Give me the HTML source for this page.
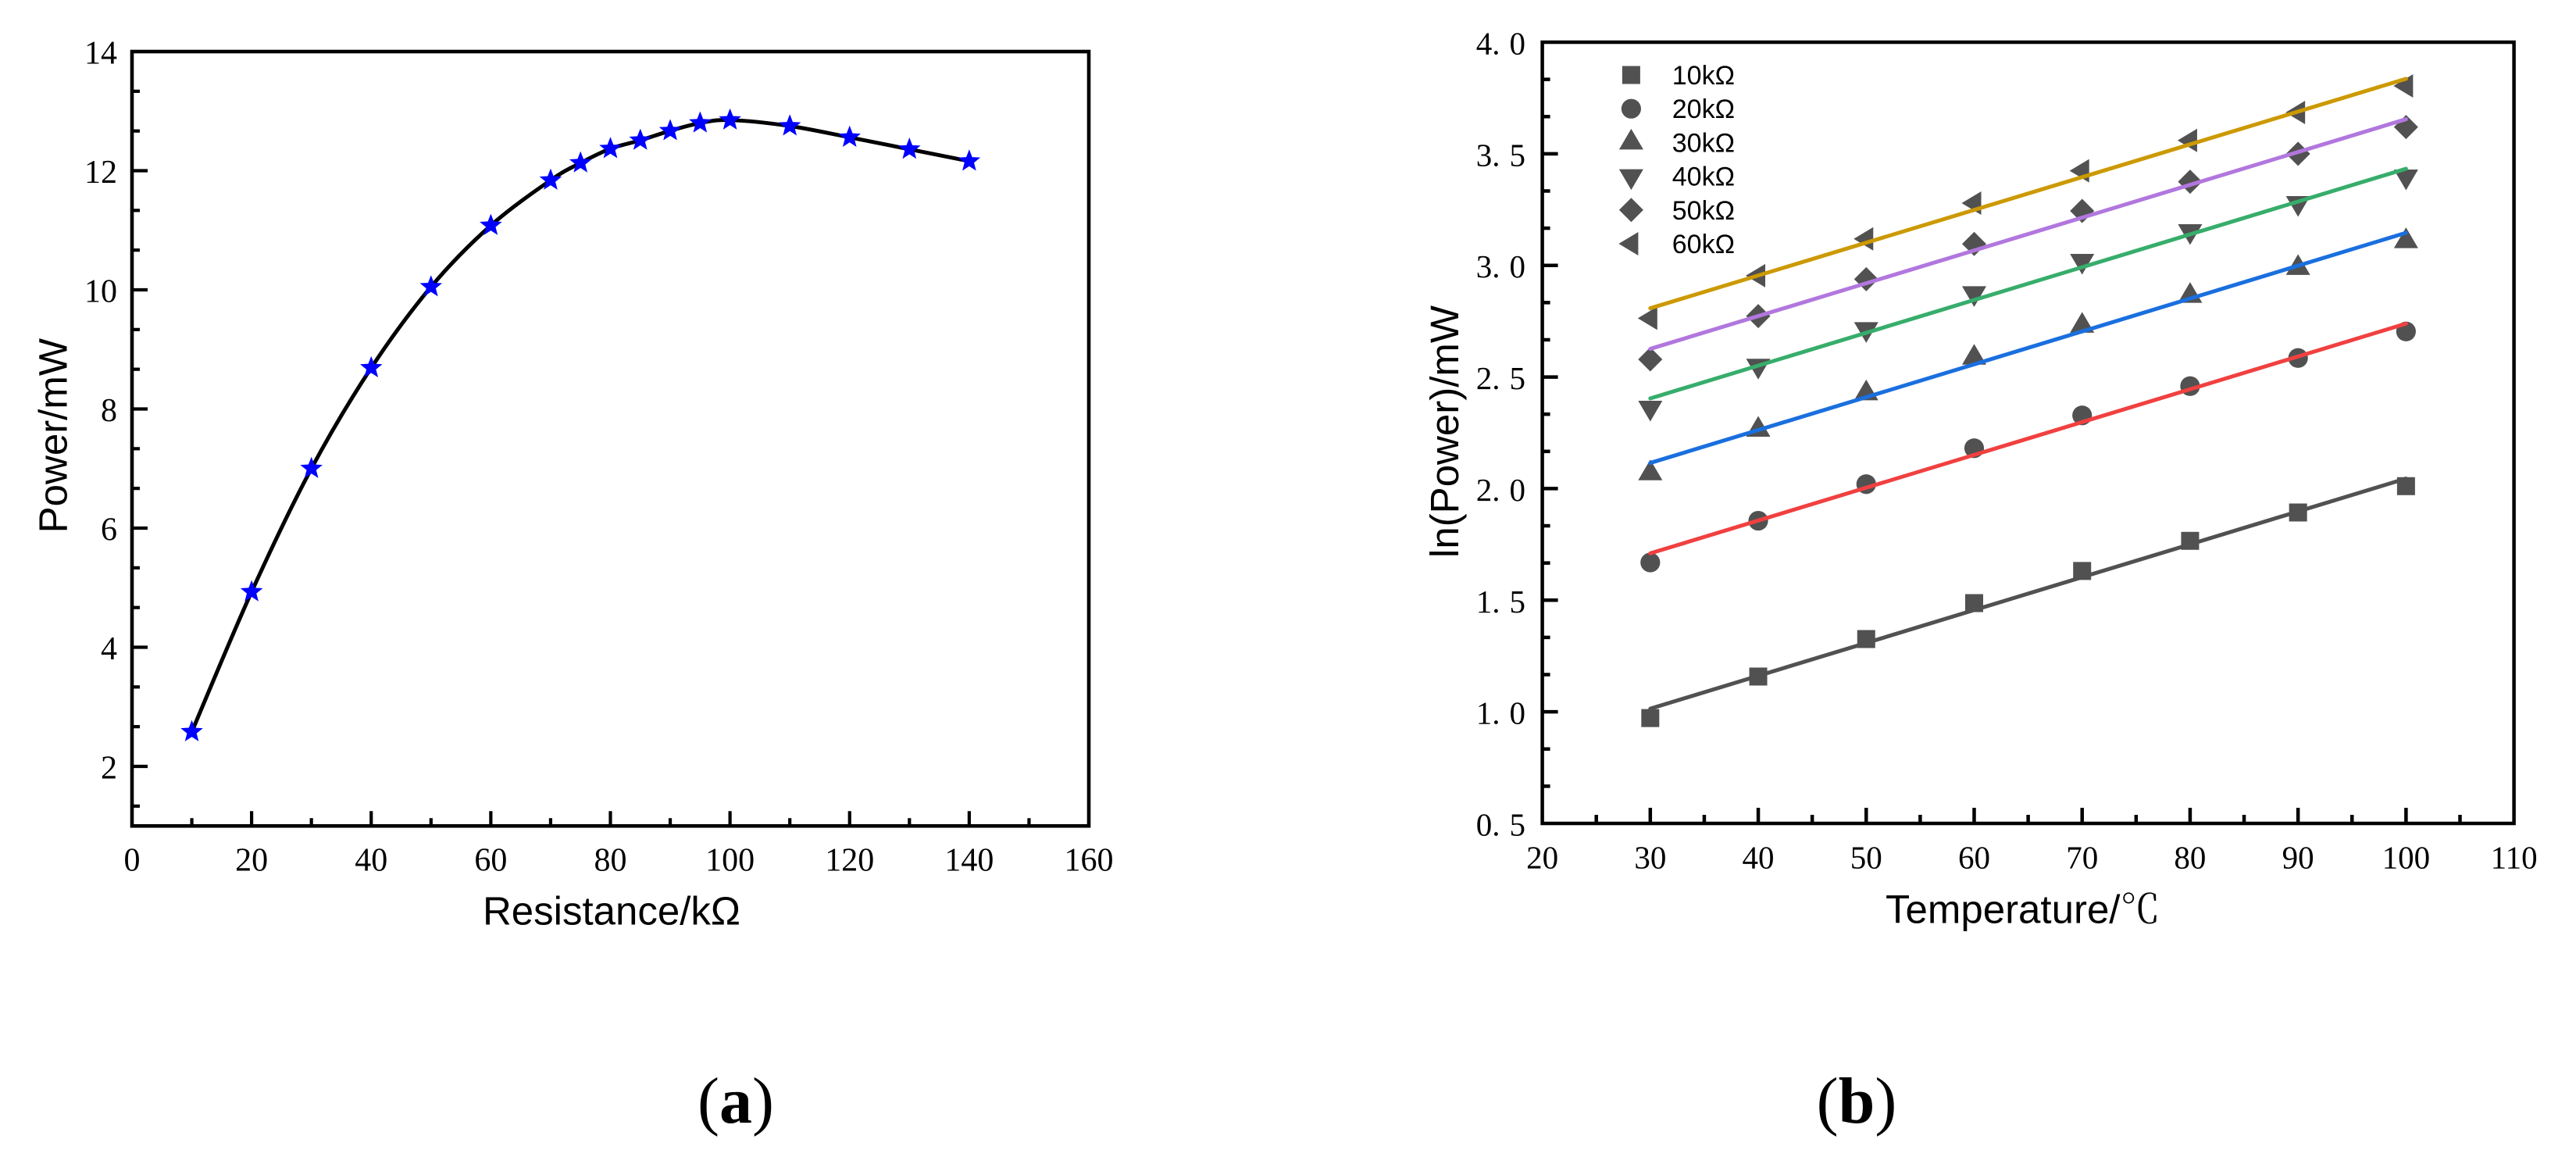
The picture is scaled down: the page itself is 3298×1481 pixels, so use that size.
<!DOCTYPE html>
<html lang="en">
<head>
<meta charset="utf-8">
<title>Power vs resistance and ln(Power) vs temperature</title>
<style>
html,body{margin:0;padding:0;background:#fff;}
svg{display:block;}
.tick{font-family:"Liberation Serif","Noto Serif CJK SC",serif;font-size:42px;fill:#000;}
.tickb{font-size:41px;}
.title{font-family:"Liberation Sans","Noto Sans CJK SC",sans-serif;font-size:51px;fill:#000;}
.legend{font-family:"Liberation Sans",sans-serif;font-size:34px;fill:#000;}
.cap{font-family:"Liberation Serif",serif;font-size:84px;fill:#000;}
</style>
</head>
<body>
<svg id="figure" xmlns="http://www.w3.org/2000/svg" width="3298" height="1481" viewBox="0 0 3298 1481">
  <rect x="0" y="0" width="3298" height="1481" fill="#fff"/>
  <g id="panelA"></g>
  <g id="panelB"></g>

  <text class="title" transform="translate(85.6 557.7) rotate(-90)" text-anchor="middle">Power/mW</text>
  <text class="title" x="783" y="1183.6" text-anchor="middle">Resistance/kΩ</text>
  <text class="title" transform="translate(1867 552.5) rotate(-90)" text-anchor="middle">ln(Power)/mW</text>
  <text class="title" x="2414" y="1181.7">Temperature/<tspan font-family="'Noto Serif CJK SC',serif">℃</tspan></text>

  <text class="cap" x="942" y="1437" text-anchor="middle">(<tspan font-weight="bold">a</tspan>)</text>
  <text class="cap" x="2377" y="1437" text-anchor="middle">(<tspan font-weight="bold">b</tspan>)</text>
</svg>
<script>
// ---- Panel (a) data ----
const resistance = [10,20,30,40,50,60,70,75,80,85,90,95,100,110,120,130,140];
const power = [2.58,4.93,7.0,8.69,10.05,11.08,11.84,12.13,12.37,12.51,12.67,12.80,12.85,12.75,12.56,12.36,12.16];
const aXTicks = [0,20,40,60,80,100,120,140,160];
const aYTicks = [2,4,6,8,10,12,14];

// ---- Panel (b) data ----
const temperature = [30,40,50,60,70,80,90,100];
const seriesLabels = ["10kΩ","20kΩ","30kΩ","40kΩ","50kΩ","60kΩ"];
const ln10k = [0.972,1.158,1.326,1.487,1.631,1.766,1.893,2.011];
const ln20k = [1.669,1.856,2.02,2.181,2.328,2.459,2.585,2.704];
const ln30k = [2.069,2.264,2.427,2.587,2.73,2.864,2.989,3.109];
const ln40k = [2.362,2.55,2.714,2.875,3.02,3.153,3.279,3.398];
const ln50k = [2.579,2.773,2.938,3.096,3.244,3.375,3.50,3.62];
const ln60k = [2.763,2.954,3.119,3.279,3.424,3.56,3.685,3.804];
const fitAt30 = [1.014,1.71,2.115,2.404,2.626,2.808];
const fitAt100 = [2.045,2.739,3.146,3.433,3.655,3.836];
const fitTemps = [30,100];
const bXTicks = [20,30,40,50,60,70,80,90,100,110];
const bYTicks = [0.5,1.0,1.5,2.0,2.5,3.0,3.5,4.0];

const SVGNS = "http://www.w3.org/2000/svg";
function make(tag, attrs, parent){
  const el = document.createElementNS(SVGNS, tag);
  for (const k in attrs) el.setAttribute(k, attrs[k]);
  parent.appendChild(el);
  return el;
}

// Axis functions
const xA = v => 169 + (v - 0) * (1394 - 169) / 160;
const yA = v => 1057.25 - (v - 1) * (1057.25 - 66) / 13;
const xB = v => 1974.6 + (v - 20) * (3218.6 - 1974.6) / 90;
const yB = v => 1054 - (v - 0.5) * 1000 / 3.5;

const gA = document.getElementById("panelA");
const gB = document.getElementById("panelB");

function tickLine(parent, x1, y1, x2, y2, w, name){
  const t = make("line", {x1:x1, y1:y1, x2:x2, y2:y2, stroke:"#000", "stroke-width":w}, parent);
  
  
}

// ---------- Panel A ----------
const frameA = make("rect", {x:xA(0), y:yA(14), width:xA(160)-xA(0), height:yA(1)-yA(14), fill:"none", stroke:"#000", "stroke-width":4.6}, gA);



aXTicks.forEach((v, i) => {
  if (i > 0 && i < aXTicks.length - 1) tickLine(gA, xA(v), yA(1), xA(v), yA(1) - 19, 4.2, 'x-major-tick');
  if (i < aXTicks.length - 1) {
    const m = (v + aXTicks[i + 1]) / 2;
    tickLine(gA, xA(m), yA(1), xA(m), yA(1) - 10, 4.2, 'x-minor-tick');
  }
  const t = make("text", {class:"tick", x:xA(v), y:1114.5, "text-anchor":"middle"}, gA);
  t.textContent = v;
  
  
});
aYTicks.forEach((v, i) => {
  if (v < 14) tickLine(gA, xA(0), yA(v), xA(0) + 20, yA(v), 4.2, 'y-major-tick');
  const step = 2 / 3;
  [v - step, v - 2 * step].filter(m => m >= 1).forEach(m => {
    tickLine(gA, xA(0), yA(m), xA(0) + 10, yA(m), 4.2, 'y-minor-tick');
  });
  const t = make("text", {class:"tick", x:150, y:yA(v) + 15.5, "text-anchor":"end"}, gA);
  t.textContent = v;
  
  
});

// Smooth curve through the points (Catmull-Rom to Bezier)
const ptsA = resistance.map((r, i) => [xA(r), yA(power[i])]);
let dA = "M" + ptsA[0][0] + " " + ptsA[0][1];
for (let i = 0; i < ptsA.length - 1; i++) {
  const p0 = ptsA[Math.max(0, i - 1)], p1 = ptsA[i], p2 = ptsA[i + 1], p3 = ptsA[Math.min(ptsA.length - 1, i + 2)];
  const c1 = [p1[0] + (p2[0] - p0[0]) / 6, p1[1] + (p2[1] - p0[1]) / 6];
  const c2 = [p2[0] - (p3[0] - p1[0]) / 6, p2[1] - (p3[1] - p1[1]) / 6];
  dA += " C" + c1[0] + " " + c1[1] + " " + c2[0] + " " + c2[1] + " " + p2[0] + " " + p2[1];
}
const curveA = make("path", {d:dA, fill:"none", stroke:"#000", "stroke-width":5}, gA);



function starPoints(cx, cy, R){
  const r = R * 0.43, out = [];
  for (let i = 0; i < 10; i++) {
    const a = -Math.PI / 2 + i * Math.PI / 5, q = i % 2 ? r : R;
    out.push((cx + q * Math.cos(a)).toFixed(2) + "," + (cy + q * Math.sin(a)).toFixed(2));
  }
  return out.join(" ");
}
resistance.forEach((r, i) => {
  const s = make("polygon", {points:starPoints(xA(r), yA(power[i]), 15), fill:"#0000ff"}, gA);
  
  
});

// ---------- Panel B ----------
const frameB = make("rect", {x:xB(20), y:yB(4), width:xB(110)-xB(20), height:yB(0.5)-yB(4), fill:"none", stroke:"#000", "stroke-width":4.5}, gB);



bXTicks.forEach((v, i) => {
  if (i > 0 && i < bXTicks.length - 1) tickLine(gB, xB(v), yB(0.5), xB(v), yB(0.5) - 20, 4.5, 'x-major-tick');
  if (i < bXTicks.length - 1) {
    const m = (v + bXTicks[i + 1]) / 2;
    tickLine(gB, xB(m), yB(0.5), xB(m), yB(0.5) - 11, 4.5, 'x-minor-tick');
  }
  const t = make("text", {class:"tick tickb", x:xB(v), y:1111.6, "text-anchor":"middle"}, gB);
  t.textContent = v;
  
  
});
bYTicks.forEach((v, i) => {
  if (i > 0 && i < bYTicks.length - 1) tickLine(gB, xB(20), yB(v), xB(20) + 20, yB(v), 4.5, 'y-major-tick');
  if (i < bYTicks.length - 1) {
    const step = (bYTicks[i + 1] - v) / 3;
    tickLine(gB, xB(20), yB(v + step), xB(20) + 10, yB(v + step), 4.5, 'y-minor-tick');
    tickLine(gB, xB(20), yB(v + 2 * step), xB(20) + 10, yB(v + 2 * step), 4.5, 'y-minor-tick');
  }
  const t = make("text", {class:"tick tickb", x:1953, y:yB(v) + 15.5, "text-anchor":"end"}, gB);
  const parts = v.toFixed(1).split(".");
  t.appendChild(document.createTextNode(parts[0] + "."));
  const frac = make("tspan", {dx:12}, t);
  frac.textContent = parts[1];
  
  
});

const MARK = "#515151";
function drawMarker(parent, kind, cx, cy){
  let el;
  if (kind === 0) {
    el = make("rect", {x:cx - 11.5, y:cy - 11.5, width:23, height:23, fill:MARK}, parent);
  } else if (kind === 1) {
    el = make("circle", {cx:cx, cy:cy, r:12.6, fill:MARK}, parent);
  } else {
    let p;
    if (kind === 2) p = [[cx, cy - 17.5], [cx + 15.5, cy + 9], [cx - 15.5, cy + 9]];
    if (kind === 3) p = [[cx, cy + 17.5], [cx + 15.5, cy - 9], [cx - 15.5, cy - 9]];
    if (kind === 4) p = [[cx, cy - 15.5], [cx + 15.5, cy], [cx, cy + 15.5], [cx - 15.5, cy]];
    if (kind === 5) p = [[cx - 16, cy], [cx + 9, cy - 15], [cx + 9, cy + 15]];
    el = make("polygon", {points:p.map(q => q.join(",")).join(" "), fill:MARK}, parent);
  }
  return el;
}

const allSeries = [ln10k, ln20k, ln30k, ln40k, ln50k, ln60k];
const lineColors = ["#515151","#f14040","#1a6fdf","#37ad6b","#b177de","#cc9900"];

allSeries.forEach((vals, s) => {
  vals.forEach((v, i) => {
    const m = drawMarker(gB, s, xB(temperature[i]), yB(v));
    
    
  });
});
allSeries.forEach((vals, s) => {
  const l = make("line", {x1:xB(fitTemps[0]), y1:yB(fitAt30[s]), x2:xB(fitTemps[1]), y2:yB(fitAt100[s]), stroke:lineColors[s], "stroke-width":5, "stroke-linecap":"round"}, gB);
  
  
});

// Legend
seriesLabels.forEach((label, s) => {
  const base = 108 + s * 43.2;
  const m = drawMarker(gB, s, 2088.4, base - 12);
  
  
  const t = make("text", {class:"legend", x:2221, y:base, "text-anchor":"end"}, gB);
  t.textContent = label;
  
  
});
</script>
</body>
</html>
